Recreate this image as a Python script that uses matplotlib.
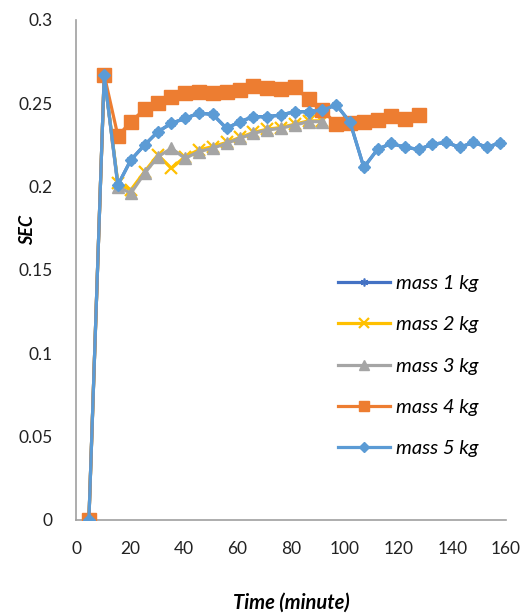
import matplotlib
matplotlib.use("Agg")
import matplotlib.pyplot as plt
from matplotlib.ticker import FuncFormatter

# Time values (minutes)
time = [4.8, 10.5, 15.6, 20.4, 25.5, 30.5, 35.5, 40.6, 45.6, 50.8, 56.0,
        61.0, 66.0, 71.1, 76.2, 81.4, 86.6, 91.7, 96.9, 102.0, 107.1, 112.2,
        117.3, 122.4, 127.5, 132.6, 137.7, 142.8, 147.9, 153.0, 157.8]

mass5 = [0.0, 0.267, 0.201, 0.216, 0.225, 0.233, 0.238, 0.241, 0.244, 0.2435,
         0.235, 0.239, 0.242, 0.242, 0.243, 0.245, 0.245, 0.246, 0.249, 0.2386,
         0.2116, 0.2224, 0.226, 0.2236, 0.2224, 0.2254, 0.2266, 0.2236, 0.2266,
         0.2236, 0.2264]
mass4 = [0.0, 0.267, 0.2304, 0.239, 0.2464, 0.2504, 0.254, 0.256, 0.257, 0.256,
         0.257, 0.258, 0.2605, 0.259, 0.2585, 0.2595, 0.2525, 0.246, 0.2375,
         0.238, 0.239, 0.240, 0.2425, 0.2405, 0.243]
mass3 = [0.0, 0.267, 0.200, 0.196, 0.208, 0.218, 0.223, 0.217, 0.221, 0.223,
         0.226, 0.229, 0.232, 0.234, 0.235, 0.237, 0.239, 0.239]
mass2 = [0.0, 0.267, 0.202, 0.198, 0.209, 0.219, 0.211, 0.218, 0.222, 0.224,
         0.2265, 0.2295, 0.2325, 0.2345, 0.2355, 0.2375, 0.2395, 0.2395]
mass1 = list(mass5)

labels = ["mass 1 kg", "mass 2 kg", "mass 3 kg", "mass 4 kg", "mass 5 kg"]
colors = ["#4472C4", "#FFC000", "#A5A5A5", "#ED7D31", "#5B9BD5"]

plt.rcParams['font.family'] = ['Lato', 'DejaVu Sans']

fig = plt.figure(figsize=(5.31, 6.15), dpi=100)
ax = fig.add_axes([76/531, 1-520/615, 430/531, 500/615])

lw = 2.3
ax.plot(time[:len(mass1)], mass1, color=colors[0], lw=lw, marker=(6, 2, 0),
        ms=7, mew=1.2, label=labels[0], zorder=2)
ax.plot(time[:len(mass2)], mass2, color=colors[1], lw=lw, marker='x',
        ms=8.5, mew=1.6, label=labels[1], zorder=3)
ax.plot(time[:len(mass3)], mass3, color=colors[2], lw=lw, marker='^',
        ms=9, label=labels[2], zorder=4)
ax.plot(time[:len(mass4)], mass4, color=colors[3], lw=lw, marker='s',
        ms=9.5, label=labels[3], zorder=5)
ax.plot(time[:len(mass5)], mass5, color=colors[4], lw=lw, marker='D',
        ms=6.6, label=labels[4], zorder=6)

ax.set_xlim(0, 160)
ax.set_ylim(0, 0.3)
ax.set_xticks(range(0, 161, 20))
ax.set_yticks([0, 0.05, 0.1, 0.15, 0.2, 0.25, 0.3])
ax.yaxis.set_major_formatter(FuncFormatter(lambda v, p: f"{v:g}"))
ax.tick_params(axis='both', length=0, labelsize=12.5, colors='#222222')
ax.tick_params(axis='y', pad=17)
ax.tick_params(axis='x', pad=15)
for s in ['top', 'right']:
    ax.spines[s].set_visible(False)
for s in ['left', 'bottom']:
    ax.spines[s].set_color('#A0A0A0')
    ax.spines[s].set_linewidth(1.2)

fig.text(28/531, 1-230/615, "SEC", rotation=90, fontsize=13,
         fontweight='bold', fontstyle='italic', ha='center', va='center')
fig.text(291/531, 1-603/615, "Time (minute)", fontsize=14.5,
         fontweight='bold', fontstyle='italic', ha='center', va='center')

leg = ax.legend(loc='center left', bbox_to_anchor=(320/531, 1-366/615),
                bbox_transform=fig.transFigure, frameon=False,
                handlelength=2.6, labelspacing=1.2, handletextpad=0.25,
                markerscale=0.8, prop={'style': 'italic', 'size': 14.5})

fig.savefig("out.png", dpi=100, facecolor='white')
